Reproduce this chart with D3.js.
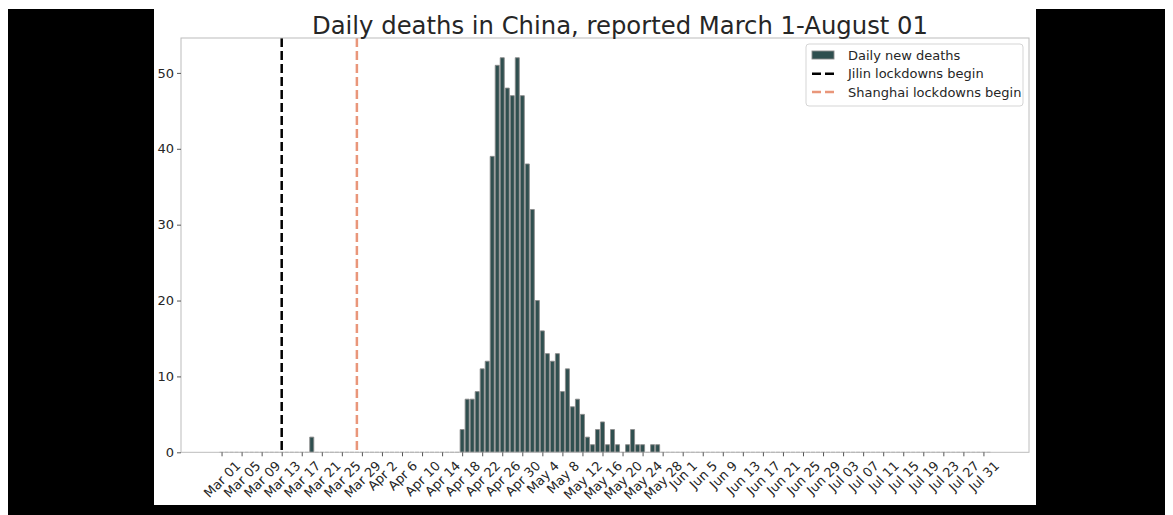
<!DOCTYPE html>
<html>
<head>
<meta charset="utf-8">
<script src="https://cdn.jsdelivr.net/npm/d3@7"></script>
<style>
  html, body { margin: 0; padding: 0; background: #ffffff; }
  svg { display: block; }
  text { font-family: "DejaVu Sans", sans-serif; fill: #262626; }
</style>
</head>
<body>
<div id="chart"></div>
<script>
// ---- Data (daily new deaths, China, 2022) ----
const marValues = [0,0,0,0,0,0,0,0,0,0, 0,0,0,0,0,0,0,0,2,0, 0,0,0,0,0,0,0,0,0,0, 0];
const aprValues = [0,0,0,0,0,0,0,0,0,0, 0,0,0,0,0,0,0,3,7,7, 8,11,12,39,51,52,48,47,52,47];
const mayValues = [38,32,20,16,13,12,13,8,11,6, 7,5,2,1,3,4,1,3,1,0, 1,3,1,1,0,1,1,0,0,0, 0];
const junValues = [0,0,0,0,0,0,0,0,0,0, 0,0,0,0,0,0,0,0,0,0, 0,0,0,0,0,0,0,0,0,0];
const julValues = [0,0,0,0,0,0,0,0,0,0, 0,0,0,0,0,0,0,0,0,0, 0,0,0,0,0,0,0,0,0,0, 0];
const augValues = [0];
const deaths = [].concat(marValues, aprValues, mayValues, junValues, julValues, augValues);
const categories = d3.timeDay.range(new Date(2022, 2, 1), new Date(2022, 7, 2));

const tickLabels = ["Mar 01","Mar 05","Mar 09","Mar 13","Mar 17","Mar 21","Mar 25","Mar 29",
  "Apr 2","Apr 6","Apr 10","Apr 14","Apr 18","Apr 22","Apr 26","Apr 30",
  "May 4","May 8","May 12","May 16","May 20","May 24","May 28",
  "Jun 1","Jun 5","Jun 9","Jun 13","Jun 17","Jun 21","Jun 25","Jun 29",
  "Jul 03","Jul 07","Jul 11","Jul 15","Jul 19","Jul 23","Jul 27","Jul 31"];
const tickIndexes = tickLabels.map((d, i) => i * 4);
const yTicks = [0, 10, 20, 30, 40, 50];

const jilinLockdownIndex = 12;     // Mar 13
const shanghaiLockdownIndex = 27;  // Mar 28

const titleText = "Daily deaths in China, reported March 1-August 01";
const legendLabels = ["Daily new deaths", "Jilin lockdowns begin", "Shanghai lockdowns begin"];

// ---- Layout ----
const W = 1173, H = 515;
const plot = { left: 181, right: 1029, top: 38, bottom: 452.3 };
const barColor = "#2f4f4f", barEdge = "#8a8a8a";
const jilinColor = "#000000", shanghaiColor = "#e9967a";

const svg = d3.select("#chart").append("svg").attr("width", W).attr("height", H);

// frame background
svg.append("rect").attr("x", 8).attr("y", 9).attr("width", W - 16).attr("height", H - 9).attr("fill", "#000");
svg.append("rect").attr("x", 154).attr("y", 9).attr("width", 882).attr("height", 496).attr("fill", "#fff");

const N = deaths.length;
const barW = 0.8;
const span = (N - 1) + barW;
const x = d3.scaleLinear()
  .domain([-barW / 2 - 0.05 * span, N - 1 + barW / 2 + 0.05 * span])
  .range([plot.left, plot.right]);
const y = d3.scaleLinear().domain([0, 54.6]).range([plot.bottom, plot.top]);

// bars (paths so zero-height bars still show their edge)
svg.append("g").selectAll("path").data(deaths).join("path")
  .attr("d", (d, i) => {
    const x0 = x(i - barW / 2), x1 = x(i + barW / 2), y0 = y(0), y1 = y(d);
    return d > 0 ? `M${x0},${y0}V${y1}H${x1}V${y0}Z` : `M${x0},${y0}H${x1}`;
  })
  .attr("fill", barColor)
  .attr("stroke", barEdge)
  .attr("stroke-width", 0.9);

// event lines
const events = [
  { idx: jilinLockdownIndex, color: jilinColor },
  { idx: shanghaiLockdownIndex, color: shanghaiColor }
];
svg.append("g").selectAll("line").data(events).join("line")
  .attr("x1", d => x(d.idx)).attr("x2", d => x(d.idx))
  .attr("y1", plot.top).attr("y2", plot.bottom)
  .attr("stroke", d => d.color).attr("stroke-width", 2.5)
  .attr("stroke-dasharray", "9,4");

// spines
svg.append("rect")
  .attr("x", plot.left).attr("y", plot.top)
  .attr("width", plot.right - plot.left).attr("height", plot.bottom - plot.top)
  .attr("fill", "none").attr("stroke", "#bcbcbc").attr("stroke-width", 1);

// y axis
const yAxis = svg.append("g").attr("transform", `translate(${plot.left},0)`)
  .call(d3.axisLeft(y).tickValues(yTicks).tickSize(4).tickPadding(3).tickFormat(d3.format("d")));
yAxis.select(".domain").remove();
yAxis.selectAll(".tick line").attr("stroke", "#555");
yAxis.selectAll(".tick text").style("font-size", "13px").style("font-family", "DejaVu Sans, sans-serif").attr("fill", "#262626");

// x axis: labels rotated 45deg, rotated box centred under tick (matplotlib ha=center, va=top)
const xAxis = svg.append("g").attr("transform", `translate(0,${plot.bottom})`)
  .call(d3.axisBottom(x).tickValues(tickIndexes).tickSize(4).tickFormat((d, i) => tickLabels[i]));
xAxis.select(".domain").remove();
xAxis.selectAll(".tick line").attr("stroke", "#555");
const boxTop = 458 - plot.bottom;
xAxis.selectAll(".tick text")
  .style("font-size", "13px").style("font-family", "DejaVu Sans, sans-serif").attr("fill", "#262626")
  .attr("text-anchor", "middle")
  .attr("dy", "0.35em")
  .attr("y", 0)
  .each(function() {
    const L = this.getComputedTextLength();
    const cy = boxTop + (L + 15.2) * Math.SQRT1_2 / 2;
    d3.select(this).attr("transform", `translate(0,${cy}) rotate(-45)`);
  });

// title
svg.append("text").attr("x", 620).attr("y", 34).attr("text-anchor", "middle")
  .style("font-size", "24.3px").text(titleText);

// legend
const lg = svg.append("g");
lg.append("rect").attr("x", 806).attr("y", 44).attr("width", 217).attr("height", 62)
  .attr("rx", 3).attr("fill", "#fff").attr("fill-opacity", 0.8)
  .attr("stroke", "#d5d5d5").attr("stroke-width", 1);
const rowsY = [55, 73.7, 92];
lg.append("rect").attr("x", 812).attr("y", rowsY[0] - 4).attr("width", 22).attr("height", 8)
  .attr("fill", barColor).attr("stroke", barEdge).attr("stroke-width", 0.9);
[jilinColor, shanghaiColor].forEach((c, i) => {
  lg.append("line").attr("x1", 812).attr("x2", 834).attr("y1", rowsY[i + 1]).attr("y2", rowsY[i + 1])
    .attr("stroke", c).attr("stroke-width", 2.5).attr("stroke-dasharray", "9,4");
});
lg.selectAll("text.lab").data(legendLabels).join("text").attr("class", "lab")
  .attr("x", 848).attr("y", (d, i) => rowsY[i] + 4.6)
  .style("font-size", "13px").text(d => d);
</script>
</body>
</html>
